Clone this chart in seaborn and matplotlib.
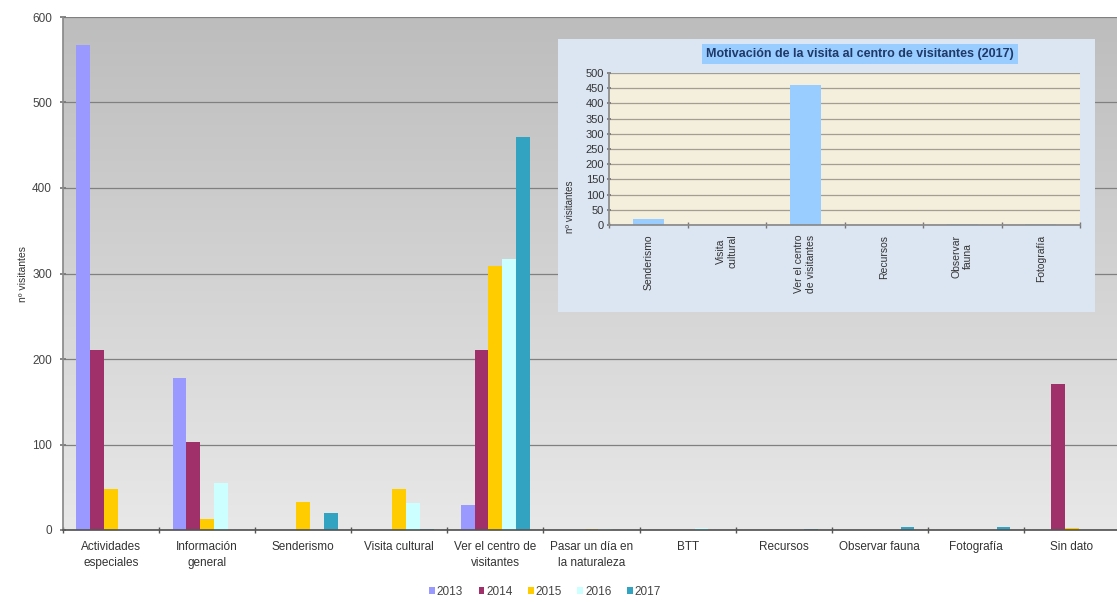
import numpy as np
import pandas as pd
import matplotlib
matplotlib.use("Agg")
import matplotlib.pyplot as plt
from matplotlib.colors import LinearSegmentedColormap
import seaborn as sns

# Visitor motivations per year
categorias = ["Actividades\nespeciales", "Información\ngeneral", "Senderismo",
              "Visita cultural", "Ver el centro de\nvisitantes",
              "Pasar un día en\nla naturaleza", "BTT", "Recursos",
              "Observar fauna", "Fotografía", "Sin dato"]
anios = ["2013", "2014", "2015", "2016", "2017"]
v2013 = [567, 178, 0, 0, 29, 0, 0, 0, 0, 0, 0]
v2014 = [210, 103, 0, 0, 210, 0, 0, 0, 0, 0, 171]
v2015 = [48, 13, 33, 48, 309, 1, 0, 0, 0, 0, 2]
v2016 = [0, 55, 0, 31, 317, 1, 2, 0, 0, 0, 0]
v2017 = [0, 0, 20, 1, 460, 0, 0, 1, 4, 4, 0]
colores = ["#9999FF", "#A0306A", "#FFCC00", "#CCFFFF", "#33A3C2"]

# 2017 detail for the inset
cat_2017 = ["Senderismo", "Visita\ncultural", "Ver el centro\nde visitantes",
            "Recursos", "Observar\nfauna", "Fotografía"]
val_2017 = [20, 1, 460, 1, 4, 4]

series = [v2013, v2014, v2015, v2016, v2017]
df = pd.DataFrame({
    "categoria": [c for _ in anios for c in categorias],
    "visitantes": [v for s in series for v in s],
    "anio": [a for a in anios for _ in categorias],
})
df_in = pd.DataFrame({"categoria": cat_2017, "visitantes": val_2017})

sns.set_theme(style="white")
plt.rcParams["font.family"] = ["Liberation Sans", "DejaVu Sans"]

W, H = 1117, 602
fig = plt.figure(figsize=(W / 100, H / 100), dpi=100, facecolor="white")

def fx(px):
    return px / W

def fy(py):
    return 1 - py / H

# ---- main chart ----
ax = fig.add_axes([fx(63), fy(530), fx(1120) - fx(63), fy(17) - fy(530)])
sns.barplot(data=df, x="categoria", y="visitantes", hue="anio",
            palette=colores, width=0.72, saturation=1, ax=ax, zorder=2,
            linewidth=0)
xl = (-0.5, len(categorias) - 0.5)
grad = np.linspace(0, 1, 256).reshape(-1, 1)
cmap = LinearSegmentedColormap.from_list("bg", ["#BDBDBD", "#E8E8E8"])
ax.imshow(grad, extent=(xl[0], xl[1], 0, 600), origin="upper", aspect="auto",
          cmap=cmap, zorder=-1, interpolation="bicubic")
ax.set_xlim(*xl)
ax.set_ylim(0, 600)
ax.set_yticks(range(0, 601, 100))
ax.yaxis.grid(True, color="#808080", lw=0.9)
ax.set_axisbelow(True)
for b in ax.patches:
    b.set_zorder(2)
for s in ["top", "right"]:
    ax.spines[s].set_visible(False)
ax.spines["left"].set_color("#8A8A8A")
ax.spines["bottom"].set_color("#555555")
ax.set_xlabel("")
ax.set_ylabel("nº visitantes", fontsize=7.5, color="#333333")
ax.yaxis.set_label_coords(-0.033, 0.5)
ax.set_xticks(range(len(categorias)))
ax.set_xticklabels(categorias, fontsize=8.5, color="#333333", linespacing=1.45)
ax.set_xticks(np.arange(-0.5, len(categorias), 1), minor=True)
ax.tick_params(axis="x", which="major", length=0, pad=8)
ax.tick_params(axis="x", which="minor", length=5, direction="inout",
               color="#555555", bottom=True)
ax.tick_params(axis="y", length=4, direction="inout", color="#777777",
               labelsize=8.5, labelcolor="#444444", left=True, pad=6)

handles, labels = ax.get_legend_handles_labels()
ax.get_legend().remove()
fig.legend(handles, labels, loc="center", bbox_to_anchor=(fx(545), fy(592)),
           ncol=5, frameon=False, fontsize=8.5, handlelength=0.5,
           handleheight=0.5, handletextpad=0.15, columnspacing=1.3,
           labelcolor="#444444")

# ---- inset panel ----
panel = fig.add_axes([fx(558), fy(312), fx(1095) - fx(558), fy(39) - fy(312)])
panel.set_facecolor("#DCE6F2")
panel.set_xticks([])
panel.set_yticks([])
for s in panel.spines.values():
    s.set_visible(False)
panel.set_zorder(3)

ins = fig.add_axes([fx(609), fy(225), fx(1080) - fx(609), fy(73) - fy(225)])
ins.set_zorder(4)
ins.set_facecolor("#F4EEDD")
sns.barplot(data=df_in, x="categoria", y="visitantes", color="#99CCFF",
            width=0.4, saturation=1, ax=ins, linewidth=0, zorder=2)
ins.set_xlim(-0.5, len(cat_2017) - 0.5)
ins.set_ylim(0, 500)
ins.set_yticks(range(0, 501, 50))
ins.yaxis.grid(True, color="#A39E90", lw=0.9)
ins.set_axisbelow(True)
for s in ["top", "right"]:
    ins.spines[s].set_visible(False)
ins.spines["left"].set_color("#8A8A8A")
ins.spines["bottom"].set_color("#8A8A8A")
ins.set_xlabel("")
ins.set_ylabel("nº visitantes", fontsize=7, color="#333333")
ins.yaxis.set_label_coords(-0.072, 0.12)
ins.set_xticks(range(len(cat_2017)))
ins.set_xticklabels(cat_2017, rotation=90, fontsize=7.5, color="#333333",
                    va="top", ha="center", linespacing=1.2)
ins.set_xticks(np.arange(-0.5, len(cat_2017), 1), minor=True)
ins.tick_params(axis="x", which="major", length=0, pad=7)
ins.tick_params(axis="x", which="minor", length=4, direction="inout",
                color="#777777", bottom=True)
ins.tick_params(axis="y", length=3, direction="inout", color="#777777",
                labelsize=8, labelcolor="#333333", left=True, pad=2)

fig.text(fx(860), fy(54), "Motivación de la visita al centro de visitantes (2017)",
         ha="center", va="center", fontsize=9, fontweight="bold",
         color="#1F3A68", zorder=5,
         bbox=dict(boxstyle="square,pad=0.3", facecolor="#99CCFF",
                   edgecolor="none"))

fig.savefig("out.png", dpi=100, facecolor="white")
